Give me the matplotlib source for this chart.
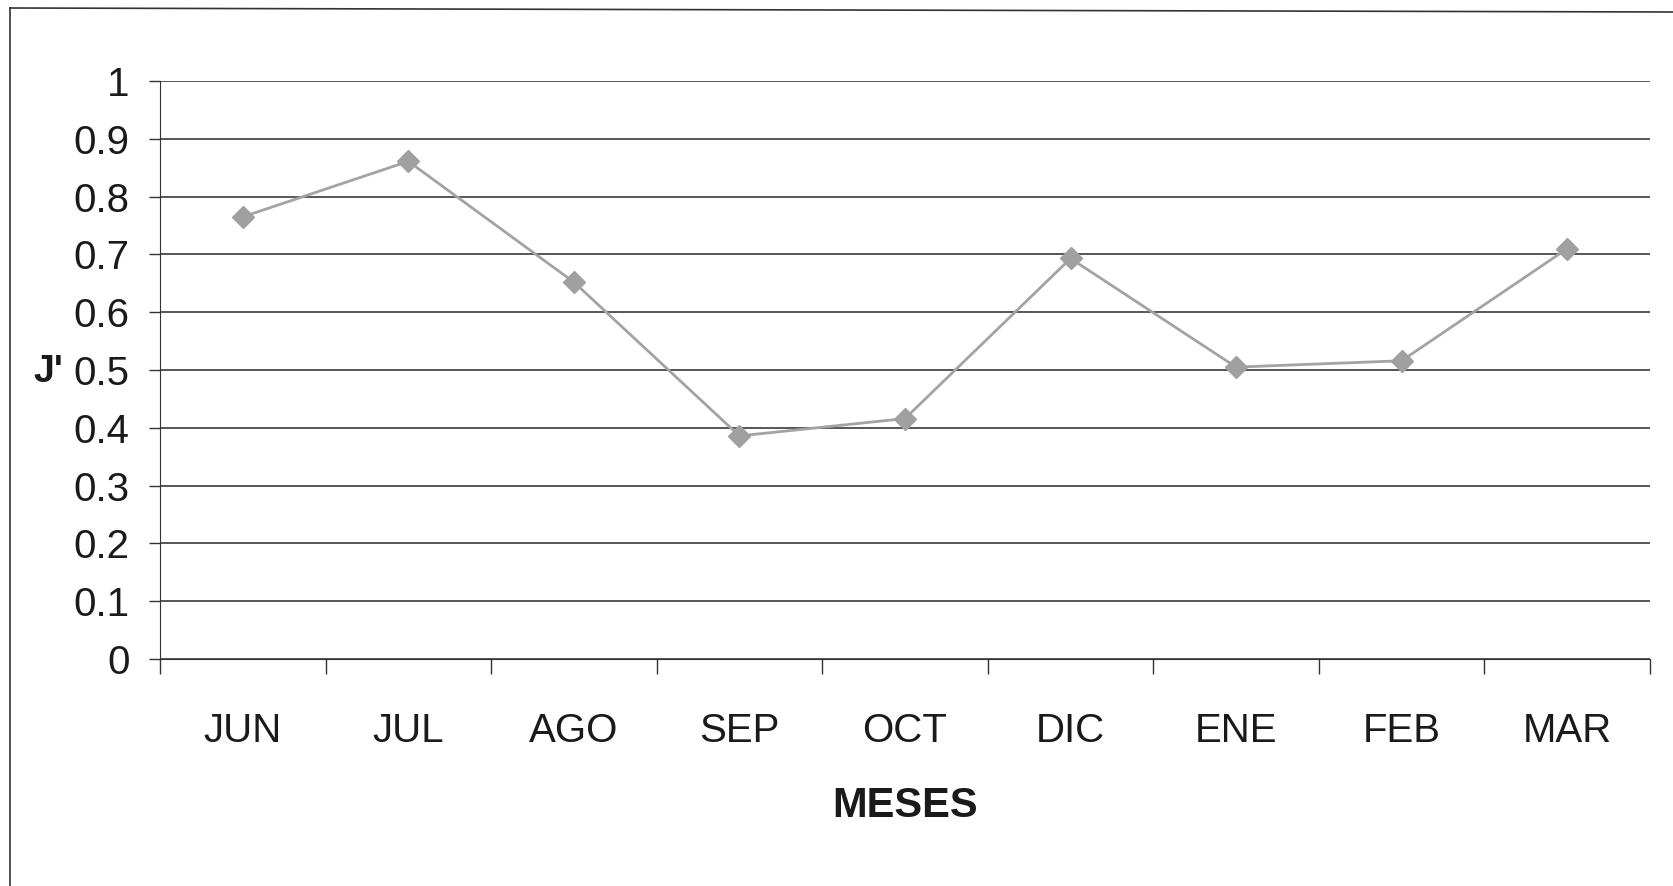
import matplotlib.pyplot as plt
from matplotlib.lines import Line2D

# Data
months = ["JUN", "JUL", "AGO", "SEP", "OCT", "DIC", "ENE", "FEB", "MAR"]
j_values = [0.765, 0.861, 0.652, 0.386, 0.416, 0.693, 0.505, 0.516, 0.710]
y_ticks = [0, 0.1, 0.2, 0.3, 0.4, 0.5, 0.6, 0.7, 0.8, 0.9, 1]
y_tick_labels = ["0", "0.1", "0.2", "0.3", "0.4", "0.5", "0.6", "0.7", "0.8", "0.9", "1"]

plt.rcParams["font.family"] = ["Liberation Sans", "DejaVu Sans"]

W, H = 1673, 886
fig = plt.figure(figsize=(W / 100, H / 100), dpi=100)
ax = fig.add_axes([160 / W, 1 - 659 / H, (1650 - 160) / W, (659 - 81) / H])

x = range(len(months))
ax.plot(x, j_values, color="#a3a3a3", lw=2, marker="D", markersize=11,
        markerfacecolor="#a0a0a0", markeredgecolor="#a0a0a0", zorder=3)

ax.set_xlim(-0.5, len(months) - 0.5)
ax.set_ylim(0, 1)

ax.set_yticks(y_ticks)
ax.set_yticklabels(y_tick_labels, fontsize=29, color="#1a1a1a")
ax.yaxis.grid(True, color="#3a3a3a", lw=1.2)
ax.set_axisbelow(True)

# categories centred between tick marks
ax.set_xticks([i + 0.5 for i in range(-1, len(months))])
ax.set_xticklabels([])
ax.set_xticks(list(x), minor=True)
ax.set_xticklabels(months, minor=True, fontsize=29, color="#1a1a1a")
ax.tick_params(axis="x", which="major", length=11, width=1, color="#333333")
ax.tick_params(axis="x", which="minor", length=0, pad=38)
ax.tick_params(axis="y", length=8, width=1, color="#333333", pad=14)

for side in ["top", "right"]:
    ax.spines[side].set_visible(False)
ax.spines["left"].set_color("#333333")
ax.spines["bottom"].set_color("#333333")

ax.set_xlabel("MESES", fontsize=30, fontweight="bold", labelpad=26, color="#1a1a1a")
fig.text(48 / W, 1 - 372 / H, "J'", fontsize=27, fontweight="bold",
         ha="center", va="center", color="#1a1a1a")

# outer chart frame
fig.add_artist(Line2D([10 / W, 10 / W], [0, 1 - 8 / H], transform=fig.transFigure,
                      color="#333333", lw=1.2))
fig.add_artist(Line2D([10 / W, 1], [1 - 8 / H, 1 - 12 / H], transform=fig.transFigure,
                      color="#333333", lw=1.2))

fig.savefig("out.png", dpi=100)
